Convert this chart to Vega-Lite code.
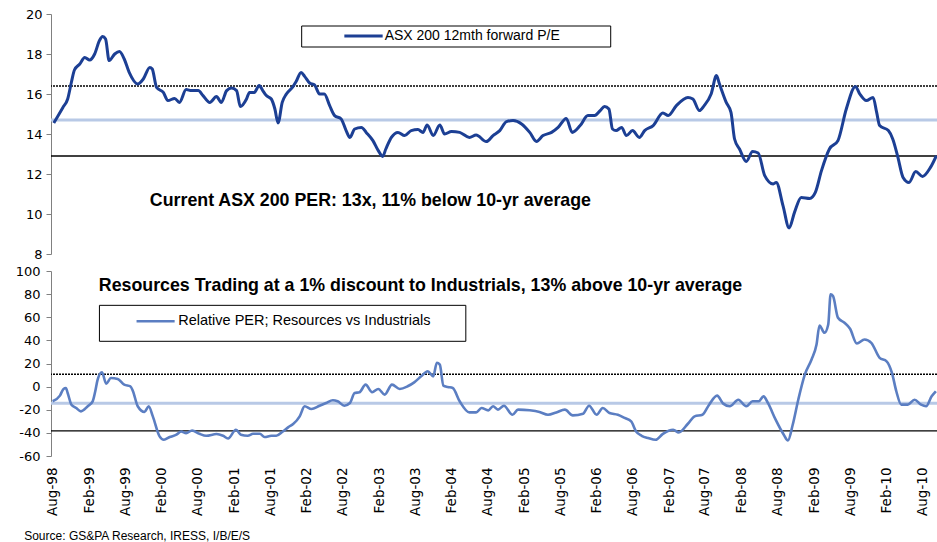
{
  "$schema": "https://vega.github.io/schema/vega-lite/v6.json",
  "background": "white",
  "padding": {"left": 15, "top": 8, "right": 0, "bottom": 0},
  "spacing": 17,
  "bounds": "flush",
  "config": {
    "view": {"stroke": null},
    "axis": {"grid": false, "title": null, "domainColor": "#808080", "tickColor": "#808080", "labelColor": "#000000", "labelFont": "DejaVu Sans", "labelFontSize": 13, "labelOverlap": false}
  },
  "title": {"text": "Source: GS&PA Research, IRESS, I/B/E/S", "orient": "bottom", "anchor": "start", "frame": "bounds", "font": "Liberation Sans", "fontSize": 12, "fontWeight": "normal", "color": "#000000", "offset": 16, "dx": 9},
  "datasets": {
    "pe": [
      {"d":"1998-08-07","v":14.55},{"d":"1998-08-28","v":14.9},{"d":"1998-09-22","v":15.33},{"d":"1998-10-16","v":15.75},{"d":"1998-11-04","v":16.6},{"d":"1998-11-19","v":17.2},{"d":"1998-12-16","v":17.5},{"d":"1999-01-10","v":17.83},{"d":"1999-02-04","v":17.7},{"d":"1999-03-01","v":18.0},{"d":"1999-03-25","v":18.67},{"d":"1999-04-10","v":18.88},{"d":"1999-04-25","v":18.75},{"d":"1999-05-13","v":17.67},{"d":"1999-06-10","v":18.0},{"d":"1999-07-04","v":18.13},{"d":"1999-07-28","v":17.75},{"d":"1999-08-22","v":17.08},{"d":"1999-10-04","v":16.5},{"d":"1999-11-01","v":16.75},{"d":"1999-12-04","v":17.33},{"d":"1999-12-16","v":17.25},
      {"d":"2000-01-07","v":16.33},{"d":"2000-02-10","v":16.08},{"d":"2000-03-04","v":15.67},{"d":"2000-04-07","v":15.78},{"d":"2000-05-01","v":15.58},{"d":"2000-06-04","v":16.22},{"d":"2000-07-01","v":16.17},{"d":"2000-08-04","v":16.17},{"d":"2000-08-28","v":15.92},{"d":"2000-10-01","v":15.58},{"d":"2000-11-04","v":15.87},{"d":"2000-11-28","v":15.58},{"d":"2000-12-25","v":16.17},
      {"d":"2001-01-19","v":16.3},{"d":"2001-02-13","v":16.17},{"d":"2001-03-04","v":15.37},{"d":"2001-04-04","v":15.75},{"d":"2001-04-19","v":16.08},{"d":"2001-05-13","v":16.08},{"d":"2001-06-07","v":16.42},{"d":"2001-06-25","v":16.17},{"d":"2001-07-13","v":15.92},{"d":"2001-08-07","v":15.75},{"d":"2001-08-25","v":15.25},{"d":"2001-09-10","v":14.55},{"d":"2001-10-01","v":15.58},{"d":"2001-10-22","v":16.0},{"d":"2001-11-25","v":16.38},{"d":"2001-12-10","v":16.62},
      {"d":"2002-01-04","v":17.08},{"d":"2002-01-22","v":16.88},{"d":"2002-02-16","v":16.55},{"d":"2002-03-13","v":16.45},{"d":"2002-04-07","v":16.0},{"d":"2002-05-01","v":16.0},{"d":"2002-05-28","v":15.42},{"d":"2002-06-22","v":14.92},{"d":"2002-07-25","v":14.75},{"d":"2002-08-19","v":14.17},{"d":"2002-09-07","v":13.83},{"d":"2002-10-01","v":14.25},{"d":"2002-11-04","v":14.33},{"d":"2002-11-28","v":14.08},
      {"d":"2003-01-01","v":13.67},{"d":"2003-01-28","v":13.17},{"d":"2003-02-19","v":12.88},{"d":"2003-03-07","v":13.25},{"d":"2003-04-04","v":13.83},{"d":"2003-05-07","v":14.08},{"d":"2003-06-10","v":13.92},{"d":"2003-07-13","v":14.17},{"d":"2003-08-16","v":14.22},{"d":"2003-09-10","v":14.08},{"d":"2003-10-01","v":14.45},{"d":"2003-11-01","v":13.92},{"d":"2003-12-04","v":14.45},{"d":"2003-12-28","v":14.0},
      {"d":"2004-02-01","v":14.13},{"d":"2004-03-13","v":14.08},{"d":"2004-05-01","v":13.83},{"d":"2004-06-04","v":13.95},{"d":"2004-07-25","v":13.62},{"d":"2004-08-28","v":13.92},{"d":"2004-10-01","v":14.17},{"d":"2004-11-04","v":14.62},{"d":"2004-12-07","v":14.67},
      {"d":"2005-01-19","v":14.5},{"d":"2005-03-01","v":14.08},{"d":"2005-04-04","v":13.63},{"d":"2005-05-07","v":13.92},{"d":"2005-06-19","v":14.08},{"d":"2005-07-22","v":14.33},{"d":"2005-09-01","v":14.78},{"d":"2005-10-01","v":14.08},{"d":"2005-11-10","v":14.42},{"d":"2005-12-19","v":14.92},
      {"d":"2006-01-22","v":14.92},{"d":"2006-02-19","v":15.17},{"d":"2006-03-13","v":15.38},{"d":"2006-04-04","v":15.25},{"d":"2006-04-22","v":14.25},{"d":"2006-05-10","v":14.17},{"d":"2006-06-07","v":14.33},{"d":"2006-07-01","v":13.92},{"d":"2006-08-01","v":14.17},{"d":"2006-09-04","v":13.83},{"d":"2006-10-01","v":14.17},{"d":"2006-11-13","v":14.42},
      {"d":"2007-01-01","v":15.05},{"d":"2007-01-28","v":14.92},{"d":"2007-03-10","v":15.42},{"d":"2007-05-07","v":15.83},{"d":"2007-06-01","v":15.75},{"d":"2007-07-04","v":15.17},{"d":"2007-07-28","v":15.42},{"d":"2007-09-01","v":16.0},{"d":"2007-09-28","v":16.92},{"d":"2007-10-13","v":16.5},{"d":"2007-11-16","v":15.58},{"d":"2007-12-10","v":15.08},{"d":"2007-12-28","v":13.75},
      {"d":"2008-01-22","v":13.25},{"d":"2008-02-25","v":12.63},{"d":"2008-03-28","v":13.12},{"d":"2008-04-25","v":13.05},{"d":"2008-05-28","v":11.92},{"d":"2008-07-10","v":11.5},{"d":"2008-07-25","v":11.58},{"d":"2008-08-28","v":10.42},{"d":"2008-09-28","v":9.3},{"d":"2008-10-25","v":10.08},{"d":"2008-11-28","v":10.83},
      {"d":"2009-01-10","v":10.78},{"d":"2009-02-07","v":11.08},{"d":"2009-03-10","v":12.17},{"d":"2009-04-19","v":13.25},{"d":"2009-06-01","v":13.67},{"d":"2009-07-13","v":15.25},{"d":"2009-08-28","v":16.38},{"d":"2009-09-19","v":16.0},{"d":"2009-10-22","v":15.67},{"d":"2009-11-25","v":15.83},{"d":"2009-12-13","v":15.08},{"d":"2009-12-28","v":14.42},
      {"d":"2010-02-10","v":14.17},{"d":"2010-03-04","v":13.75},{"d":"2010-03-28","v":12.92},{"d":"2010-04-25","v":11.83},{"d":"2010-05-25","v":11.58},{"d":"2010-06-28","v":12.12},{"d":"2010-08-01","v":11.88},{"d":"2010-09-10","v":12.33},{"d":"2010-10-10","v":12.92}
    ],
    "rel": [
      {"d":"1998-08-01","v":-12.7},{"d":"1998-09-07","v":-7.8},{"d":"1998-09-25","v":-2},{"d":"1998-10-07","v":-1.2},{"d":"1998-10-16","v":-5.5},{"d":"1998-11-04","v":-15.6},{"d":"1998-11-28","v":-18.5},{"d":"1998-12-22","v":-21.4},
      {"d":"1999-01-25","v":-17},{"d":"1999-02-19","v":-12.7},{"d":"1999-03-04","v":-4},{"d":"1999-03-16","v":6},{"d":"1999-04-07","v":12.4},{"d":"1999-04-28","v":2.6},{"d":"1999-05-22","v":7.5},{"d":"1999-06-25","v":6.6},{"d":"1999-07-28","v":1.7},{"d":"1999-08-28","v":0.3},{"d":"1999-09-10","v":-4},{"d":"1999-10-04","v":-17},{"d":"1999-11-07","v":-21.9},{"d":"1999-11-28","v":-17},{"d":"1999-12-19","v":-25.7},
      {"d":"2000-01-22","v":-43},{"d":"2000-02-13","v":-45.9},{"d":"2000-03-13","v":-43.6},{"d":"2000-04-16","v":-41.6},{"d":"2000-05-10","v":-38.8},{"d":"2000-06-04","v":-40.2},{"d":"2000-07-04","v":-37.9},{"d":"2000-08-10","v":-40.8},{"d":"2000-09-13","v":-42.5},{"d":"2000-11-04","v":-41},{"d":"2000-12-07","v":-42.5},
      {"d":"2001-01-01","v":-44.8},{"d":"2001-02-10","v":-37.3},{"d":"2001-03-07","v":-41.6},{"d":"2001-04-10","v":-42.5},{"d":"2001-05-07","v":-40.8},{"d":"2001-06-10","v":-40.8},{"d":"2001-07-04","v":-43.6},{"d":"2001-08-07","v":-42.5},{"d":"2001-09-01","v":-42.5},{"d":"2001-10-04","v":-38.8},{"d":"2001-11-01","v":-35},{"d":"2001-11-25","v":-32.4},{"d":"2001-12-28","v":-25.7},
      {"d":"2002-01-22","v":-17},{"d":"2002-02-25","v":-19.4},{"d":"2002-04-07","v":-16.5},{"d":"2002-05-10","v":-14.2},{"d":"2002-06-13","v":-11.8},{"d":"2002-07-07","v":-12.7},{"d":"2002-08-10","v":-16.5},{"d":"2002-09-07","v":-14.2},{"d":"2002-10-01","v":-5.5},{"d":"2002-10-25","v":-4.9},{"d":"2002-11-25","v":1.7},{"d":"2002-12-28","v":-4.9},
      {"d":"2003-01-28","v":-2},{"d":"2003-03-01","v":-6.9},{"d":"2003-04-07","v":1.7},{"d":"2003-05-16","v":-2},{"d":"2003-06-25","v":0.3},{"d":"2003-07-28","v":3.7},{"d":"2003-09-01","v":8.9},{"d":"2003-10-04","v":13.3},{"d":"2003-11-01","v":8.9},{"d":"2003-11-19","v":20.6},{"d":"2003-12-04","v":19},{"d":"2003-12-22","v":0.9},
      {"d":"2004-01-13","v":-0.3},{"d":"2004-02-07","v":-1.2},{"d":"2004-03-13","v":-12.7},{"d":"2004-05-01","v":-22.3},{"d":"2004-06-04","v":-22.3},{"d":"2004-07-01","v":-18.5},{"d":"2004-08-04","v":-20.5},{"d":"2004-08-28","v":-17},{"d":"2004-09-22","v":-19.9},{"d":"2004-10-22","v":-16.5},{"d":"2004-12-04","v":-24.3},
      {"d":"2005-01-01","v":-19.9},{"d":"2005-03-01","v":-20.5},{"d":"2005-04-19","v":-21.9},{"d":"2005-06-01","v":-24.3},{"d":"2005-07-13","v":-22.3},{"d":"2005-08-25","v":-19.9},{"d":"2005-10-04","v":-24.9},{"d":"2005-11-25","v":-23.4},{"d":"2005-12-25","v":-16.5},
      {"d":"2006-02-01","v":-24.3},{"d":"2006-03-04","v":-18.5},{"d":"2006-04-07","v":-22.8},{"d":"2006-05-19","v":-24.3},{"d":"2006-06-22","v":-27.1},{"d":"2006-07-25","v":-30.1},{"d":"2006-08-19","v":-38.8},{"d":"2006-09-16","v":-42.5},{"d":"2006-10-19","v":-44.5},{"d":"2006-11-25","v":-46},
      {"d":"2007-01-01","v":-40.8},{"d":"2007-02-22","v":-37.3},{"d":"2007-03-22","v":-39.6},{"d":"2007-05-07","v":-32.1},{"d":"2007-06-10","v":-25.7},{"d":"2007-07-19","v":-24.3},{"d":"2007-08-22","v":-15.6},{"d":"2007-10-01","v":-7.8},{"d":"2007-11-01","v":-14.7},{"d":"2007-12-04","v":-17},
      {"d":"2008-01-16","v":-11.3},{"d":"2008-02-25","v":-17},{"d":"2008-03-28","v":-12.7},{"d":"2008-04-28","v":-12.7},{"d":"2008-05-22","v":-8.4},{"d":"2008-06-13","v":-14.1},{"d":"2008-07-22","v":-28.6},{"d":"2008-09-01","v":-41.6},{"d":"2008-09-22","v":-46.6},{"d":"2008-10-16","v":-33},{"d":"2008-11-13","v":-11.3},{"d":"2008-12-16","v":10.4},
      {"d":"2009-01-19","v":23.4},{"d":"2009-02-13","v":36.4},{"d":"2009-02-28","v":52.9},{"d":"2009-03-25","v":46.6},{"d":"2009-04-13","v":53.8},{"d":"2009-04-25","v":79.8},{"d":"2009-05-07","v":78.3},{"d":"2009-06-01","v":59.6},{"d":"2009-07-04","v":55.2},{"d":"2009-08-01","v":50},{"d":"2009-09-04","v":37.3},{"d":"2009-10-13","v":40.8},{"d":"2009-11-16","v":37.9},{"d":"2009-12-28","v":24.9},
      {"d":"2010-02-01","v":21.9},{"d":"2010-02-28","v":11.9},{"d":"2010-03-22","v":-4},{"d":"2010-04-16","v":-15.6},{"d":"2010-05-19","v":-15.6},{"d":"2010-06-22","v":-11.3},{"d":"2010-07-25","v":-15.6},{"d":"2010-08-19","v":-17},{"d":"2010-09-16","v":-8.4},{"d":"2010-10-07","v":-4}
    ]
  },
  "vconcat": [
    {
      "width": 886,
      "height": 240,
      "layer": [
        {"data": {"values": [{}]}, "mark": {"type": "rule", "color": "#B8C9E6", "strokeWidth": 3}, "encoding": {"y": {"datum": 14.7, "type": "quantitative", "scale": {"domain": [8, 20]}}}},
        {"data": {"values": [{}]}, "mark": {"type": "rule", "color": "#000000", "strokeWidth": 1.3, "strokeDash": [2, 1]}, "encoding": {"y": {"datum": 16.4, "type": "quantitative"}}},
        {"data": {"values": [{}]}, "mark": {"type": "rule", "color": "#000000", "strokeWidth": 1.3}, "encoding": {"y": {"datum": 12.9, "type": "quantitative"}}},
        {"data": {"name": "pe"}, "mark": {"type": "line", "color": "#1C3F94", "strokeWidth": 3, "interpolate": "monotone"},
          "encoding": {
            "x": {"field": "d", "type": "temporal", "scale": {"type": "utc", "domain": [{"year": 1998, "month": 7, "date": 24, "utc": true}, {"year": 2010, "month": 10, "date": 13, "utc": true}]}, "axis": null},
            "y": {"field": "v", "type": "quantitative", "scale": {"domain": [8, 20]}, "axis": {"values": [8, 10, 12, 14, 16, 18, 20], "tickCount": 20, "labelExpr": "'' + datum.value", "labelOverlap": false, "tickSize": 5, "labelPadding": 4}}
          }},
        {"data": {"values": [{}]}, "mark": {"type": "rect", "fill": "white", "stroke": "black", "strokeWidth": 1},
          "encoding": {
            "x": {"datum": {"year": 2002, "month": 1, "date": 7, "utc": true}, "type": "temporal", "scale": {"type": "utc", "domain": [{"year": 1998, "month": 7, "date": 24, "utc": true}, {"year": 2010, "month": 10, "date": 13, "utc": true}]}},
            "x2": {"datum": {"year": 2006, "month": 4, "date": 13, "utc": true}},
            "y": {"datum": 19.4, "type": "quantitative"},
            "y2": {"datum": 18.35}
          }},
        {"data": {"values": [{}]}, "mark": {"type": "rule", "color": "#1C3F94", "strokeWidth": 3},
          "encoding": {
            "x": {"datum": {"year": 2002, "month": 8, "date": 10, "utc": true}, "type": "temporal", "scale": {"type": "utc", "domain": [{"year": 1998, "month": 7, "date": 24, "utc": true}, {"year": 2010, "month": 10, "date": 13, "utc": true}]}},
            "x2": {"datum": {"year": 2003, "month": 2, "date": 19, "utc": true}},
            "y": {"datum": 18.9, "type": "quantitative"}
          }},
        {"data": {"values": [{}]}, "mark": {"type": "text", "text": "ASX 200 12mth forward P/E", "align": "left", "baseline": "middle", "font": "Liberation Sans", "fontSize": 14, "color": "#000000"},
          "encoding": {
            "x": {"datum": {"year": 2003, "month": 3, "date": 1, "utc": true}, "type": "temporal", "scale": {"type": "utc", "domain": [{"year": 1998, "month": 7, "date": 24, "utc": true}, {"year": 2010, "month": 10, "date": 13, "utc": true}]}},
            "y": {"datum": 18.9, "type": "quantitative"}
          }},
        {"data": {"values": [{}]}, "mark": {"type": "text", "text": "Current ASX 200 PER: 13x, 11% below 10-yr average", "align": "left", "baseline": "middle", "font": "Liberation Sans", "fontSize": 17.8, "fontWeight": "bold", "color": "#000000"},
          "encoding": {
            "x": {"datum": {"year": 1999, "month": 12, "date": 4, "utc": true}, "type": "temporal", "scale": {"type": "utc", "domain": [{"year": 1998, "month": 7, "date": 24, "utc": true}, {"year": 2010, "month": 10, "date": 13, "utc": true}]}},
            "y": {"datum": 10.65, "type": "quantitative"}
          }}
      ]
    },
    {
      "width": 886,
      "height": 185,
      "layer": [
        {"data": {"values": [{}]}, "mark": {"type": "rule", "color": "#B8C9E6", "strokeWidth": 3}, "encoding": {"y": {"datum": -14.3, "type": "quantitative", "scale": {"domain": [-60, 100]}}}},
        {"data": {"values": [{}]}, "mark": {"type": "rule", "color": "#000000", "strokeWidth": 1.3, "strokeDash": [2, 1]}, "encoding": {"y": {"datum": 10.7, "type": "quantitative"}}},
        {"data": {"values": [{}]}, "mark": {"type": "rule", "color": "#000000", "strokeWidth": 1.3}, "encoding": {"y": {"datum": -38.3, "type": "quantitative"}}},
        {"data": {"name": "rel"}, "mark": {"type": "line", "color": "#5B7EC2", "strokeWidth": 2.6, "interpolate": "monotone"},
          "encoding": {
            "x": {"field": "d", "type": "temporal", "scale": {"type": "utc", "domain": [{"year": 1998, "month": 7, "date": 24, "utc": true}, {"year": 2010, "month": 10, "date": 13, "utc": true}]},
              "axis": {"values": [
                {"year": 1998, "month": 8, "date": 1, "utc": true}, {"year": 1999, "month": 2, "date": 1, "utc": true}, {"year": 1999, "month": 8, "date": 1, "utc": true},
                {"year": 2000, "month": 2, "date": 1, "utc": true}, {"year": 2000, "month": 8, "date": 1, "utc": true}, {"year": 2001, "month": 2, "date": 1, "utc": true},
                {"year": 2001, "month": 8, "date": 1, "utc": true}, {"year": 2002, "month": 2, "date": 1, "utc": true}, {"year": 2002, "month": 8, "date": 1, "utc": true},
                {"year": 2003, "month": 2, "date": 1, "utc": true}, {"year": 2003, "month": 8, "date": 1, "utc": true}, {"year": 2004, "month": 2, "date": 1, "utc": true},
                {"year": 2004, "month": 8, "date": 1, "utc": true}, {"year": 2005, "month": 2, "date": 1, "utc": true}, {"year": 2005, "month": 8, "date": 1, "utc": true},
                {"year": 2006, "month": 2, "date": 1, "utc": true}, {"year": 2006, "month": 8, "date": 1, "utc": true}, {"year": 2007, "month": 2, "date": 1, "utc": true},
                {"year": 2007, "month": 8, "date": 1, "utc": true}, {"year": 2008, "month": 2, "date": 1, "utc": true}, {"year": 2008, "month": 8, "date": 1, "utc": true},
                {"year": 2009, "month": 2, "date": 1, "utc": true}, {"year": 2009, "month": 8, "date": 1, "utc": true}, {"year": 2010, "month": 2, "date": 1, "utc": true},
                {"year": 2010, "month": 8, "date": 1, "utc": true}],
                "tickCount": 60, "format": "%b-%y", "labelAngle": -90, "domain": false, "ticks": false, "labelPadding": 11, "labelFontSize": 13.5, "labelOverlap": false}},
            "y": {"field": "v", "type": "quantitative", "scale": {"domain": [-60, 100]}, "axis": {"values": [-60, -40, -20, 0, 20, 40, 60, 80, 100], "tickCount": 20, "labelExpr": "'' + datum.value", "labelOverlap": false, "tickSize": 5, "labelPadding": 6}}
          }},
        {"data": {"values": [{}]}, "mark": {"type": "rect", "fill": "white", "stroke": "black", "strokeWidth": 1},
          "encoding": {
            "x": {"datum": {"year": 1999, "month": 3, "date": 25, "utc": true}, "type": "temporal", "scale": {"type": "utc", "domain": [{"year": 1998, "month": 7, "date": 24, "utc": true}, {"year": 2010, "month": 10, "date": 13, "utc": true}]}},
            "x2": {"datum": {"year": 2004, "month": 4, "date": 13, "utc": true}},
            "y": {"datum": 70.3, "type": "quantitative"},
            "y2": {"datum": 39.2}
          }},
        {"data": {"values": [{}]}, "mark": {"type": "rule", "color": "#5B7EC2", "strokeWidth": 2.6},
          "encoding": {
            "x": {"datum": {"year": 1999, "month": 9, "date": 28, "utc": true}, "type": "temporal", "scale": {"type": "utc", "domain": [{"year": 1998, "month": 7, "date": 24, "utc": true}, {"year": 2010, "month": 10, "date": 13, "utc": true}]}},
            "x2": {"datum": {"year": 2000, "month": 4, "date": 7, "utc": true}},
            "y": {"datum": 56.5, "type": "quantitative"}
          }},
        {"data": {"values": [{}]}, "mark": {"type": "text", "text": "Relative PER; Resources vs Industrials", "align": "left", "baseline": "middle", "font": "Liberation Sans", "fontSize": 14.5, "color": "#000000"},
          "encoding": {
            "x": {"datum": {"year": 2000, "month": 4, "date": 25, "utc": true}, "type": "temporal", "scale": {"type": "utc", "domain": [{"year": 1998, "month": 7, "date": 24, "utc": true}, {"year": 2010, "month": 10, "date": 13, "utc": true}]}},
            "y": {"datum": 56.5, "type": "quantitative"}
          }},
        {"data": {"values": [{}]}, "mark": {"type": "text", "text": "Resources Trading at a 1% discount to Industrials, 13% above 10-yr average", "align": "left", "baseline": "middle", "font": "Liberation Sans", "fontSize": 17.8, "fontWeight": "bold", "color": "#000000"},
          "encoding": {
            "x": {"datum": {"year": 1999, "month": 3, "date": 22, "utc": true}, "type": "temporal", "scale": {"type": "utc", "domain": [{"year": 1998, "month": 7, "date": 24, "utc": true}, {"year": 2010, "month": 10, "date": 13, "utc": true}]}},
            "y": {"datum": 86.8, "type": "quantitative"}
          }}
      ]
    }
  ]
}
